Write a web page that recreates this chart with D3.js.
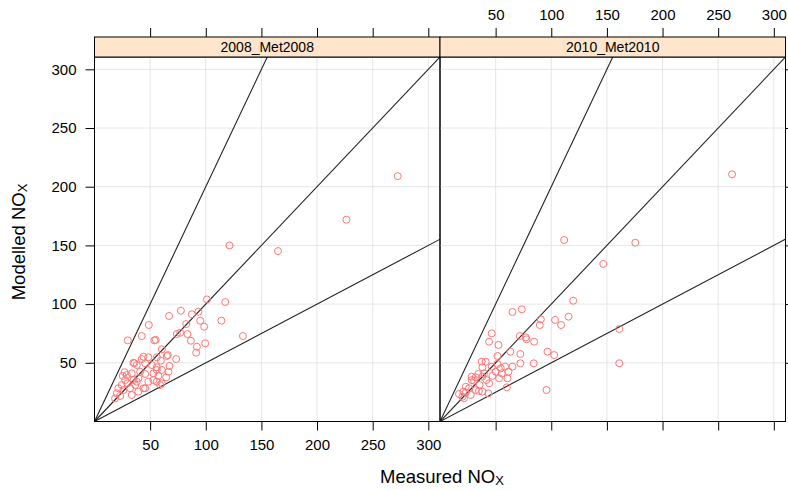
<!DOCTYPE html>
<html>
<head>
<meta charset="utf-8">
<script src="https://cdn.jsdelivr.net/npm/d3@7"></script>
<style>
  body { margin: 0; background: #fff; }
  text { font-family: "Liberation Sans", Arial, sans-serif; }
</style>
</head>
<body>
<div id="chart"></div>
<script>
const panels = ["2008_Met2008", "2010_Met2010"];
const ticks = [50, 100, 150, 200, 250, 300];
const ratios = [2, 1, 0.5];

const measured2008 = [272.5, 226.4, 121.3, 164.9, 101, 117.5, 77.6, 67, 87.5, 93.4, 95, 114, 48.8, 82.4, 98.6,
  74, 77, 83.5, 133.4, 29.9, 42.5, 53.8, 55, 86.6, 99.5, 92, 91.4, 60.5, 65.9, 73.4, 42.5, 48.4, 56, 59.6,
  35, 38, 45.5, 51.5, 67.4, 56, 60.5, 66.5, 25.4, 29, 33.5, 41, 45.5, 53, 57.4, 64.4, 53, 48.4, 59, 44,
  36.5, 29.5, 24.5, 21.4, 26, 32, 20, 23, 18.5, 39.4, 35, 27.5, 44, 35.8, 65, 27, 56, 38, 45.5, 33.5,
  39.4, 60.5, 56];
const modelled2008 = [209, 171.9, 150, 145.2, 104, 101.8, 94.4, 89.9, 91.3, 93.5, 85.9, 85.9, 82.2, 83, 80.8,
  74.5, 75.6, 74.5, 72.8, 69.1, 72.8, 69.1, 69.5, 68.8, 66.6, 63.7, 58.6, 61.5, 56.6, 53.2, 53.2, 54.7, 54.7, 51.8,
  50, 48.1, 49.6, 48.1, 47.3, 46.2, 43.9, 42.4, 38.8, 39.6, 41, 42.4, 40.5, 41, 38.8, 37.6, 35.3, 33.9, 31.1, 28.3,
  31.1, 32.5, 31.1, 28.3, 26.8, 28.3, 24, 21.7, 19.7, 36.8, 35.3, 35.3, 55.2, 49.6, 55.8, 42, 43.9, 33.9, 28.3, 22.6,
  25.4, 32.5, 33.9];

const measured2010 = [262.5, 175.5, 111.6, 146.7, 119.7, 65.1, 73.5, 90.6, 89.7, 103.4, 108.8, 115.5, 161.1, 161.1,
  46.5, 44.1, 52.5, 71.7, 77.1, 77.7, 84.6, 63.2, 72.2, 51.7, 96.6, 102.6, 72.2, 84.2, 41.1, 38.1, 46.5, 51.6,
  54.6, 58.5, 65.1, 50.1, 55.5, 61.5, 47.1, 53.1, 60.6, 28.5, 32.1, 30.6, 38.1, 41.7, 44.1, 35.6, 23.1, 26.1,
  32.1, 38.1, 43.5, 60.1, 95.7, 17.1, 20.1, 23.1, 27.6, 21.6, 35, 39.6, 34.5, 37.5, 28.5, 21];
const modelled2010 = [210.6, 152.3, 154.6, 134.2, 102.9, 93.3, 95.6, 87, 82.2, 86.5, 82.2, 89.3, 78.8, 49.6,
  75.1, 68, 65.2, 72.8, 71.7, 70, 68, 59.5, 57.5, 55.8, 59.5, 56.6, 49.6, 49.6, 50.9, 46.2, 46.7, 49,
  45.3, 46.7, 46.7, 42.4, 41, 42.4, 38.8, 36.8, 36.8, 38.2, 37.6, 34.8, 38.2, 35.3, 32.5, 31.1, 29.6, 28.3,
  26.8, 25.4, 24, 29.1, 26.8, 23.4, 21.1, 24.5, 22.6, 19.8, 26, 41, 40.5, 51, 35.3, 25.4];

const series = [
  { name: panels[0], x: measured2008, y: modelled2008 },
  { name: panels[1], x: measured2010, y: modelled2010 }
];

const width = 788, height = 490;
const left = 94.5, panelTop = 57, panelW = 345.5, panelH = 364.5, stripH = 20;
const pointColor = "#ff7676";
const tickFont = 15;

const svg = d3.select("#chart").append("svg")
  .attr("width", width)
  .attr("height", height);

const y = d3.scaleLinear().domain([0, 310.5]).range([panelTop + panelH, panelTop]);

series.forEach((s, i) => {
  const x0 = left + i * panelW;
  const x = d3.scaleLinear().domain([0, 310.5]).range([x0, x0 + panelW]);
  const g = svg.append("g");

  g.append("clipPath").attr("id", "clip" + i)
    .append("rect").attr("x", x0).attr("y", panelTop).attr("width", panelW).attr("height", panelH);

  // grid
  g.append("g").selectAll("line").data(ticks).join("line")
    .attr("x1", d => x(d)).attr("x2", d => x(d))
    .attr("y1", panelTop).attr("y2", panelTop + panelH)
    .attr("stroke", "#e6e6e6");
  g.append("g").selectAll("line").data(ticks).join("line")
    .attr("x1", x0).attr("x2", x0 + panelW)
    .attr("y1", d => y(d)).attr("y2", d => y(d))
    .attr("stroke", "#e6e6e6");

  // reference lines 1:2, 1:1, 2:1
  g.append("g").attr("clip-path", `url(#clip${i})`)
    .selectAll("line").data(ratios).join("line")
    .attr("x1", x(0)).attr("y1", y(0))
    .attr("x2", x(400)).attr("y2", d => y(400 * d))
    .attr("stroke", "#222").attr("stroke-width", 1.1);

  g.append("g").attr("clip-path", `url(#clip${i})`)
    .selectAll("circle").data(s.x.map((v, j) => [v, s.y[j]])).join("circle")
    .attr("cx", d => x(d[0])).attr("cy", d => y(d[1]))
    .attr("r", 3.5)
    .attr("fill", "none")
    .attr("stroke", pointColor)
    .attr("stroke-width", 1);

  // frame
  g.append("rect").attr("x", x0).attr("y", panelTop).attr("width", panelW).attr("height", panelH)
    .attr("fill", "none").attr("stroke", "#000");

  // strip
  g.append("rect").attr("x", x0).attr("y", panelTop - stripH).attr("width", panelW).attr("height", stripH)
    .attr("fill", "#ffe5cc").attr("stroke", "#000");
  g.append("text").attr("x", x0 + panelW / 2).attr("y", panelTop - stripH / 2 + 5)
    .attr("text-anchor", "middle").attr("font-size", 14).text(s.name);

  // x axes: labels at bottom for first panel, top for second
  const bottom = g.append("g").attr("transform", `translate(0,${panelTop + panelH})`)
    .call(d3.axisBottom(x).tickValues(ticks).tickSize(9).tickPadding(9)
      .tickFormat(i === 0 ? d3.format("d") : ""));
  const topAxis = g.append("g").attr("transform", `translate(0,${panelTop - stripH})`)
    .call(d3.axisTop(x).tickValues(ticks).tickSize(9).tickPadding(8)
      .tickFormat(i === 1 ? d3.format("d") : ""));
  [bottom, topAxis].forEach(a => {
    a.select(".domain").remove();
    a.selectAll("text").attr("font-size", tickFont).attr("fill", "#000")
      .style("font-family", "'Liberation Sans', Arial, sans-serif");
    a.selectAll("line").attr("stroke", "#000");
  });
});

const yAxis = svg.append("g").attr("transform", `translate(${left},0)`)
  .call(d3.axisLeft(y).tickValues(ticks).tickSize(9).tickPadding(9));
yAxis.select(".domain").remove();
yAxis.selectAll("text").attr("font-size", tickFont).attr("fill", "#000")
  .style("font-family", "'Liberation Sans', Arial, sans-serif");

const yAxisR = svg.append("g").attr("transform", `translate(${left + 2 * panelW},0)`)
  .call(d3.axisRight(y).tickValues(ticks).tickSize(9).tickFormat(""));
yAxisR.select(".domain").remove();

// axis titles
const xt = svg.append("text").attr("x", left + panelW + 2).attr("y", 483)
  .attr("text-anchor", "middle").attr("font-size", 18.5);
xt.append("tspan").text("Measured NO");
xt.append("tspan").attr("font-size", 13).attr("dy", 2).text("X");

const yt = svg.append("text")
  .attr("transform", `translate(25,242) rotate(-90)`)
  .attr("text-anchor", "middle").attr("font-size", 18.5);
yt.append("tspan").text("Modelled NO");
yt.append("tspan").attr("font-size", 13).attr("dy", 2).text("X");
</script>
</body>
</html>
